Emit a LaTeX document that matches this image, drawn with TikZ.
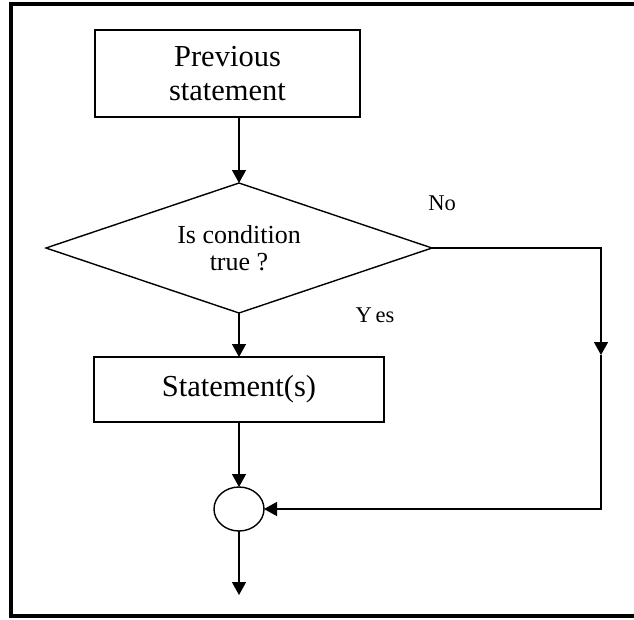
\documentclass[tikz,border=0pt]{standalone}
\usepackage{fontspec}
\setmainfont{Liberation Serif}
\usetikzlibrary{shapes.geometric,arrows.meta}
\begin{document}
\begin{tikzpicture}[x=1pt,y=-1pt,
  box/.style={draw,line width=1.4pt,rectangle,inner sep=0pt,outer sep=0pt,font=\fontsize{30.5}{34}\selectfont,align=center},
  decision/.style={draw,line width=1.4pt,diamond,shape aspect=3,inner sep=0pt,outer sep=0pt,minimum width=386pt,minimum height=130pt,font=\fontsize{26}{27}\selectfont,align=center},
  merger/.style={draw,line width=1.4pt,ellipse,minimum width=50pt,minimum height=44pt,inner sep=0pt,outer sep=0pt},
  lbl/.style={font=\fontsize{22.5}{24}\selectfont,inner sep=0pt},
  flow/.style={line width=1.4pt,-{Triangle[length=13pt,width=14pt]}},
  frame/.style={line width=4pt}
]
\useasboundingbox (0,0) rectangle (634,619);
\draw[frame] (640,3.5) -- (11,3.5) -- (11,615.5) -- (640,615.5);

\node[box,minimum width=265pt,minimum height=87pt] (prev) at (227.5,73.5) {Previous\\statement};
\node[decision] (dec) at (239,248) {Is condition\\true ?};
\node[box,minimum width=290pt,minimum height=65pt] (stmt) at (239,389.5) {Statement(s)};
\node[merger] (merge) at (239,509) {};

\node[lbl] (no) at (442,203) {No};
\node[lbl] (yes) at (375,315) {Y\,es};

\coordinate (r1) at (601,248);
\coordinate (rm) at (601,355);
\coordinate (r2) at (601,509);
\coordinate (exit) at (239,595);

\draw[flow] (dec.north |- prev.south) -- (dec.north);
\draw[flow] (dec.south) -- (stmt.north);
\draw[flow] (stmt.south) -- (merge.north);
\draw[flow] (dec.east) -- (r1) -- (rm);
\draw[flow] (rm) -- (r2) -- (merge.east);
\draw[flow] (merge.south) -- (exit);
\end{tikzpicture}
\end{document}
